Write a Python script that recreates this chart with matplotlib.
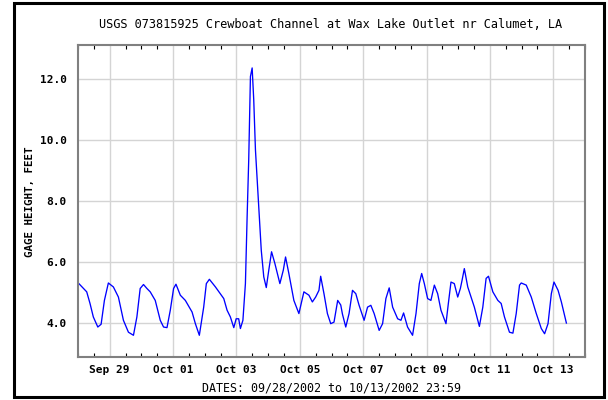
"""USGS gage height, Crewboat Channel at Wax Lake Outlet, Sep 28 - Oct 13 2002."""

import numpy as np
import pandas as pd
import matplotlib
matplotlib.use("Agg")
import matplotlib.pyplot as plt
import matplotlib.dates as mdates
from matplotlib.patches import Rectangle

START = "2002-09-28 00:00"
# hours since START
hours = [0.0, 6.6, 9.1, 11.6, 15.0, 17.5, 20.0, 23.0, 26.8, 30.6, 34.4, 38.2, 42.0,
         44.6, 47.1, 49.6, 52.2, 54.7, 58.5, 62.3, 64.8, 67.4, 69.9, 72.4, 74.2,
         77.5, 81.3, 86.4, 88.9, 91.9, 95.2, 97.2, 99.5, 104.1, 107.8, 110.4,
         112.9, 115.4, 118.0, 119.8, 121.7, 123.0, 124.9, 126.8, 128.1, 129.3,
         130.6, 131.9, 133.1, 134.4, 136.9, 138.8, 140.7, 142.6, 144.5, 146.6,
         149.1, 152.9, 155.5, 157.2, 159.7, 163.5, 167.3, 169.1, 171.1, 174.9,
         177.5, 180.0, 182.5, 183.8, 186.3, 188.9, 191.4, 193.9, 196.7, 199.0,
         200.3, 202.8, 205.3, 207.9, 210.4, 212.9, 216.7, 219.3, 221.8, 224.3,
         228.1, 230.7, 233.2, 235.7, 238.3, 242.1, 244.6, 246.6, 249.6, 253.4,
         256.0, 258.5, 260.3, 262.3, 264.8, 267.3, 269.9, 272.4, 274.9, 278.7,
         280.5, 282.5, 285.0, 287.6, 289.6, 290.9, 292.6, 295.2, 297.7, 300.2,
         304.0, 306.6, 309.1, 310.9, 314.2, 318.0, 320.5, 323.0, 326.8, 329.4,
         331.9, 334.4, 335.7, 339.5, 343.3, 347.1, 350.9, 353.4, 356.0, 358.5,
         360.5, 363.6, 366.1, 369.9]
gage_ft = [5.33, 5.03, 4.65, 4.21, 3.88, 3.97, 4.75, 5.32, 5.19, 4.86, 4.10, 3.71, 3.61,
           4.21, 5.14, 5.27, 5.14, 5.03, 4.75, 4.10, 3.88, 3.86, 4.43, 5.14, 5.28,
           4.92, 4.75, 4.37, 3.99, 3.61, 4.53, 5.30, 5.44, 5.19, 4.97, 4.81,
           4.43, 4.21, 3.86, 4.15, 4.15, 3.83, 4.10, 5.30, 7.49, 9.34,
           12.07, 12.35, 11.31, 9.67, 7.81, 6.39, 5.52, 5.17, 5.74, 6.34,
           5.96, 5.30, 5.74, 6.17, 5.63, 4.75, 4.32, 4.65, 5.03, 4.92,
           4.70, 4.86, 5.08, 5.54, 4.97, 4.32, 3.99, 4.04, 4.75, 4.60,
           4.30, 3.88, 4.32, 5.08, 4.97, 4.59, 4.10, 4.53, 4.59, 4.32,
           3.77, 3.99, 4.81, 5.16, 4.53, 4.15, 4.10, 4.34, 3.88, 3.61,
           4.32, 5.30, 5.63, 5.30, 4.81, 4.75, 5.25, 4.97, 4.43, 3.99,
           4.65, 5.35, 5.30, 4.86, 5.14, 5.41, 5.79, 5.19, 4.86, 4.53,
           3.90, 4.53, 5.47, 5.54, 5.03, 4.75, 4.65, 4.21, 3.71, 3.68,
           4.32, 5.25, 5.32, 5.25, 4.86, 4.32, 3.83, 3.66, 3.99, 4.97,
           5.35, 5.08, 4.70, 4.01]

YTICKS = [4, 6, 8, 10, 12]
TITLE = "USGS 073815925 Crewboat Channel at Wax Lake Outlet nr Calumet, LA"
XLABEL = "DATES: 09/28/2002 to 10/13/2002 23:59"
YLABEL = "GAGE HEIGHT, FEET"

times = pd.Timestamp(START) + pd.to_timedelta(np.array(hours), unit="h")

MONO = "DejaVu Sans Mono"
GRID = "#d4d4d4"

fig = plt.figure(figsize=(6.08, 4.0), dpi=100)
fig.patch.set_facecolor("white")
ax = fig.add_axes([78 / 608, 1 - 357 / 400, 507 / 608, 312 / 400])

ax.plot(times, gage_ft, color="#0000ff", lw=0.95)

ax.set_xlim(pd.Timestamp("2002-09-28"), pd.Timestamp("2002-10-14"))
ax.set_ylim(2.9, 13.1)
ax.set_yticks(YTICKS)
ax.set_yticklabels([f"{v:.1f}" for v in YTICKS])

# labels every other day, small ticks every 12 h
ax.set_xticks(pd.date_range("2002-09-29", "2002-10-13", freq="2D"))
ax.xaxis.set_major_formatter(mdates.DateFormatter("%b %d"))
ax.xaxis.set_minor_locator(mdates.HourLocator(byhour=[0, 12]))

ax.grid(True, which="major", color=GRID, lw=1.0)
ax.set_axisbelow(True)
ax.tick_params(axis="x", which="both", direction="in", top=True, bottom=True,
               length=3, width=0.8, color="black", pad=6)
ax.tick_params(axis="x", which="major", length=0)
ax.tick_params(axis="y", length=0, pad=8)
for lab in ax.get_xticklabels() + ax.get_yticklabels():
    lab.set_fontfamily(MONO)
    lab.set_fontweight("bold")
    lab.set_fontsize(8)
for spine in ax.spines.values():
    spine.set_edgecolor("#808080")
    spine.set_linewidth(1.5)

fig.text(331 / 608, 1 - 24 / 400, TITLE, fontfamily=MONO, fontsize=8.6,
         ha="center", va="center")
fig.text(332 / 608, 1 - 388 / 400, XLABEL, fontfamily=MONO, fontsize=8.4,
         ha="center", va="center")
fig.text(30 / 608, 1 - 202 / 400, YLABEL, fontfamily=MONO, fontsize=7.8,
         fontweight="bold", rotation=90, ha="center", va="center")

# black frame around the whole picture
fig.patches.append(Rectangle((14 / 608, 3 / 400), 590 / 608, 394 / 400,
                             transform=fig.transFigure, fill=False,
                             edgecolor="black", lw=2.2))

fig.savefig("out.png", dpi=100, facecolor="white")
